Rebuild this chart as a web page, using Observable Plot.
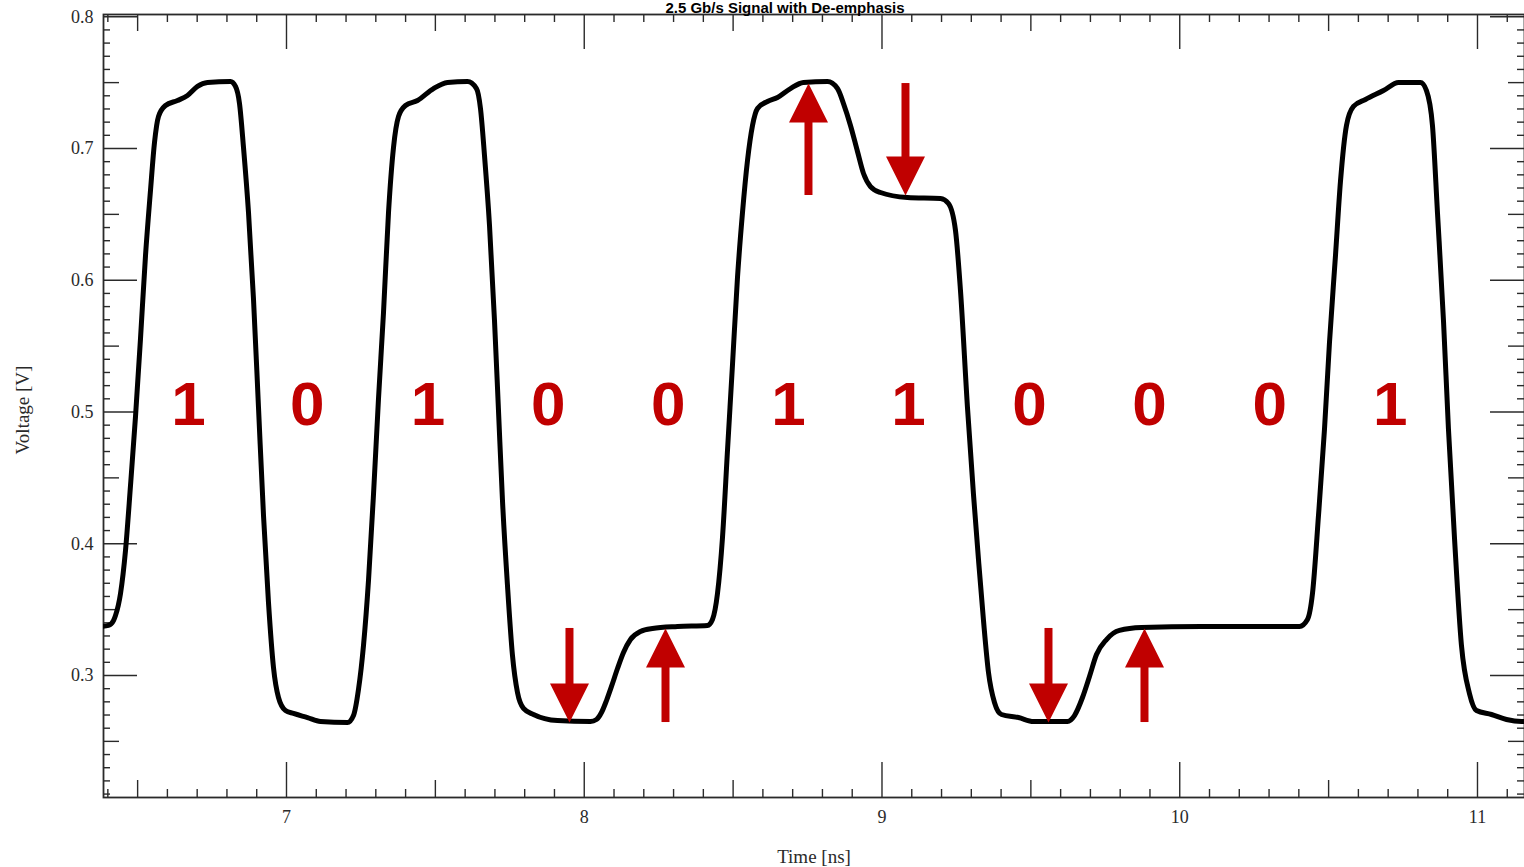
<!DOCTYPE html>
<html>
<head>
<meta charset="utf-8">
<script src="https://cdn.jsdelivr.net/npm/d3@7"></script>
<script src="https://cdn.jsdelivr.net/npm/@observablehq/plot@0.6"></script>
<style>
  html, body { margin: 0; padding: 0; background: white; }
  #chart svg { display: block; }
</style>
</head>
<body>
<div id="chart"></div>
<script>
const title = "2.5 Gb/s Signal with De-emphasis";
const xLabel = "Time [ns]";
const yLabel = "Voltage [V]";

// waveform (time in ns, voltage in V)
const timeNs = [6.3753, 6.4022, 6.4190, 6.4257, 6.4425, 6.4593, 6.4761, 6.4929, 6.5097, 6.5265, 6.5432, 6.5567, 6.5701, 6.5936, 6.6339, 6.6675, 6.7011, 6.7347, 6.8119, 6.8287, 6.8422, 6.8556, 6.8724, 6.8892, 6.9060, 6.9228, 6.9395, 6.9563, 6.9731, 6.9966, 7.0235, 7.0705, 7.1142, 7.2049, 7.2250, 7.2418, 7.2586, 7.2754, 7.2922, 7.3090, 7.3258, 7.3426, 7.3594, 7.3762, 7.3997, 7.4400, 7.4937, 7.5407, 7.6079, 7.6381, 7.6515, 7.6650, 7.6818, 7.6986, 7.7120, 7.7254, 7.7422, 7.7590, 7.7758, 7.7960, 7.8295, 7.9101, 8.0210, 8.0411, 8.0579, 8.0747, 8.0915, 8.1117, 8.1318, 8.1553, 8.1889, 8.2292, 8.3132, 8.4139, 8.4307, 8.4475, 8.4643, 8.4811, 8.4979, 8.5147, 8.5315, 8.5483, 8.5651, 8.5819, 8.6154, 8.6490, 8.6927, 8.7363, 8.8169, 8.8505, 8.8707, 8.8942, 8.9177, 8.9379, 8.9614, 8.9949, 9.0856, 9.1965, 9.2233, 9.2468, 9.2636, 9.2871, 9.3073, 9.3241, 9.3409, 9.3577, 9.3778, 9.4013, 9.4584, 9.5088, 9.6230, 9.6465, 9.6734, 9.6969, 9.7204, 9.7540, 9.7976, 9.8715, 10.0730, 10.4022, 10.4290, 10.4458, 10.4660, 10.4861, 10.5029, 10.5231, 10.5398, 10.5600, 10.5835, 10.6238, 10.6843, 10.7347, 10.8086, 10.8287, 10.8488, 10.8656, 10.8858, 10.9026, 10.9227, 10.9462, 10.9731, 10.9966, 11.0470, 11.0974, 11.1477, 11.1700];
const voltage = [0.3372, 0.3380, 0.3417, 0.3455, 0.3622, 0.3949, 0.4442, 0.4966, 0.5558, 0.6188, 0.6681, 0.7046, 0.7243, 0.7326, 0.7364, 0.7402, 0.7471, 0.7501, 0.7508, 0.7471, 0.7341, 0.7008, 0.6514, 0.5854, 0.5034, 0.4214, 0.3554, 0.3061, 0.2833, 0.2734, 0.2712, 0.2681, 0.2651, 0.2643, 0.2696, 0.2894, 0.3228, 0.3721, 0.4374, 0.5102, 0.5755, 0.6514, 0.7008, 0.7243, 0.7326, 0.7364, 0.7455, 0.7501, 0.7508, 0.7455, 0.7304, 0.6947, 0.6416, 0.5694, 0.5011, 0.4328, 0.3683, 0.3152, 0.2871, 0.2750, 0.2704, 0.2658, 0.2651, 0.2666, 0.2719, 0.2810, 0.2917, 0.3053, 0.3175, 0.3273, 0.3334, 0.3357, 0.3372, 0.3380, 0.3425, 0.3622, 0.4047, 0.4708, 0.5360, 0.6021, 0.6514, 0.6909, 0.7175, 0.7304, 0.7357, 0.7387, 0.7455, 0.7501, 0.7508, 0.7455, 0.7341, 0.7175, 0.6977, 0.6810, 0.6711, 0.6666, 0.6628, 0.6620, 0.6582, 0.6378, 0.5922, 0.5034, 0.4374, 0.3880, 0.3417, 0.3023, 0.2795, 0.2704, 0.2681, 0.2651, 0.2651, 0.2696, 0.2833, 0.2992, 0.3159, 0.3273, 0.3342, 0.3364, 0.3372, 0.3372, 0.3425, 0.3622, 0.4214, 0.4867, 0.5527, 0.6188, 0.6749, 0.7175, 0.7319, 0.7372, 0.7440, 0.7501, 0.7501, 0.7440, 0.7175, 0.6514, 0.5694, 0.4867, 0.4047, 0.3228, 0.2863, 0.2734, 0.2704, 0.2666, 0.2651, 0.2651];

// bit labels
const bits = ["1", "0", "1", "0", "0", "1", "1", "0", "0", "0", "1"];
const bitTime = [6.6709, 7.0695, 7.4749, 7.8789, 8.2819, 8.6863, 9.0893, 9.4954, 9.8984, 10.3021, 10.7068];
const bitVoltage = 0.505;

// de-emphasis arrows: x position, tail voltage, tip voltage
const arrowTime = [7.9504, 8.2729, 8.7531, 9.0789, 9.5592, 9.8816];
const arrowTail = [0.3357, 0.2643, 0.6643, 0.7493, 0.3357, 0.2643];
const arrowTip  = [0.2643, 0.3357, 0.7493, 0.6643, 0.2643, 0.3357];

// axis ticks
const xTickLabels = [7, 8, 9, 10, 11];
const yTickLabels = [0.3, 0.4, 0.5, 0.6, 0.7, 0.8];
const xMediumTicks = [6.5, 7.5, 8.5, 9.5, 10.5];
const yMediumTicks = [0.25, 0.35, 0.45, 0.55, 0.65, 0.75];
const xMinorTicks = d3.range(64, 112).filter(d => d % 5 !== 0).map(d => d / 10);
const yMinorTicks = d3.range(21, 81).filter(d => d % 5 !== 0).map(d => d / 100);

const red = "#c00000";
const ink = "#2a2a2a";

const wave = timeNs.map((t, i) => ({t, v: voltage[i]}));
const bitData = bits.map((b, i) => ({b, t: bitTime[i], v: bitVoltage}));
const arrows = arrowTime.map((t, i) => ({t, tail: arrowTail[i], tip: arrowTip[i]}));
const upArrows = arrows.filter(d => d.tip > d.tail);
const downArrows = arrows.filter(d => d.tip < d.tail);

const headUp = {draw(ctx, size) { const r = Math.sqrt(size / Math.PI); ctx.moveTo(0, 0); ctx.lineTo(r, 2 * r); ctx.lineTo(-r, 2 * r); ctx.closePath(); }};
const headDown = {draw(ctx, size) { const r = Math.sqrt(size / Math.PI); ctx.moveTo(0, 0); ctx.lineTo(r, -2 * r); ctx.lineTo(-r, -2 * r); ctx.closePath(); }};

const W = 1524, H = 867, mL = 103, mR = 0, mT = 14, mB = 70;
const pw = W - mL - mR, ph = H - mT - mB;

const tickStyle = {stroke: ink, strokeWidth: 1.4};

const chart = Plot.plot({
  width: W, height: H,
  marginLeft: mL, marginRight: mR, marginTop: mT, marginBottom: mB,
  x: {domain: [6.3854, 11.1579], label: null},
  y: {domain: [0.2074, 0.8017], label: null},
  style: {fontFamily: "Liberation Serif", fontSize: "18px", color: ink, background: "white", overflow: "hidden"},
  marks: [
    // ticks bottom / top
    Plot.ruleX(xTickLabels, {...tickStyle, insetTop: ph - 35}),
    Plot.ruleX(xMediumTicks, {...tickStyle, insetTop: ph - 17}),
    Plot.ruleX(xMinorTicks, {...tickStyle, insetTop: ph - 8}),
    Plot.ruleX(xTickLabels, {...tickStyle, insetBottom: ph - 35}),
    Plot.ruleX(xMediumTicks, {...tickStyle, insetBottom: ph - 17}),
    Plot.ruleX(xMinorTicks, {...tickStyle, insetBottom: ph - 8}),
    // ticks left / right
    Plot.ruleY(yTickLabels, {...tickStyle, insetRight: pw - 34}),
    Plot.ruleY(yMediumTicks, {...tickStyle, insetRight: pw - 16}),
    Plot.ruleY(yMinorTicks, {...tickStyle, insetRight: pw - 7}),
    Plot.ruleY(yTickLabels, {...tickStyle, insetLeft: pw - 34}),
    Plot.ruleY(yMediumTicks, {...tickStyle, insetLeft: pw - 16}),
    Plot.ruleY(yMinorTicks, {...tickStyle, insetLeft: pw - 7}),
    Plot.frame({stroke: ink, strokeWidth: 1.8}),
    Plot.axisX(xTickLabels, {anchor: "bottom", tickSize: 0, tickPadding: 13, tickFormat: d => String(d), label: null, fontSize: 18}),
    Plot.axisY(yTickLabels, {anchor: "left", tickSize: 0, tickPadding: 10, tickFormat: d3.format(".1f"), label: null, fontSize: 18}),
    // waveform
    Plot.line(wave, {x: "t", y: "v", stroke: "black", strokeWidth: 5, curve: "monotone-x", clip: true, strokeLinejoin: "round"}),
    // bit labels
    Plot.text(bitData, {x: "t", y: "v", text: "b", fill: red, fontSize: 62, fontWeight: "bold", fontFamily: "Liberation Sans", lineAnchor: "middle"}),
    // arrows
    Plot.ruleX(arrows, {x: "t", y1: "tail", y2: d => d.tail + 0.7 * (d.tip - d.tail), stroke: red, strokeWidth: 8}),
    Plot.dot(upArrows, {x: "t", y: "tip", symbol: headUp, r: 19.5, fill: red, stroke: "none"}),
    Plot.dot(downArrows, {x: "t", y: "tip", symbol: headDown, r: 19.5, fill: red, stroke: "none"}),
    // axis titles and chart title
    Plot.text([xLabel], {text: d => d, frameAnchor: "bottom", dy: 59, lineAnchor: "middle", textAnchor: "middle", fontSize: 19}),
    Plot.text([yLabel], {text: d => d, frameAnchor: "left", dx: -81, dy: 4, rotate: -90, lineAnchor: "middle", textAnchor: "middle", fontSize: 19}),
    Plot.text([title], {text: d => d, frameAnchor: "top", dx: -29, dy: -2, lineAnchor: "bottom", textAnchor: "middle", fontSize: 15, fontWeight: "bold", fontFamily: "Liberation Sans", fill: "black"})
  ]
});
document.getElementById("chart").appendChild(chart);
</script>
</body>
</html>
